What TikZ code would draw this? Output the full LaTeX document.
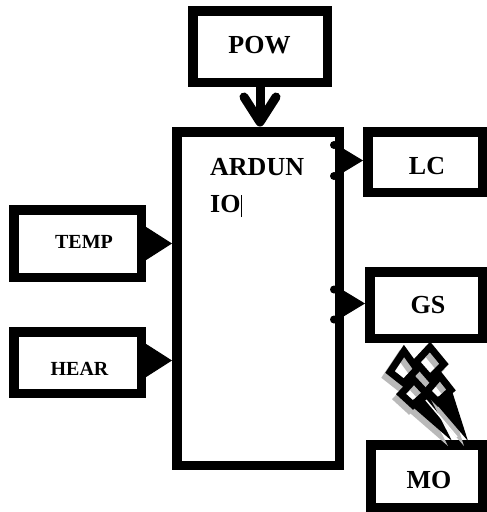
\documentclass[tikz,border=0pt]{standalone}
\usepackage{fontspec}
\setmainfont{Liberation Serif}
\usetikzlibrary{arrows.meta,calc}
\begin{document}
\begin{tikzpicture}[x=1pt,y=-1pt,
  box/.style={draw=black,line width=9.5pt,fill=white,inner sep=0pt,outer sep=4.75pt},
  big/.style={font=\fontsize{26}{30}\selectfont\bfseries,inner sep=0pt,anchor=base},
  small/.style={font=\fontsize{20}{24}\selectfont\bfseries,inner sep=0pt,anchor=base},
  tri/.style={line width=1pt,-{Triangle[length=26pt,width=33pt]}},
  trir/.style={line width=1pt,-{Triangle[length=25pt,width=30pt]}},
  dotn/.style={fill=black,circle,inner sep=0pt,minimum size=8pt},
  thick9/.style={line width=9pt},
  chev/.style={line width=9pt,line cap=round,line join=round},
  lobe/.style={draw=black,line width=7pt,line join=miter,miter limit=3},
  lobeshadow/.style={draw=gray!55,line width=7pt,line join=miter,miter limit=3},
  spike/.style={fill=black},
  spikeshadow/.style={fill=gray!55}
]
\useasboundingbox (0,0) rectangle (487,512);

% boxes
\node[box,minimum width=134.5pt,minimum height=71.5pt] (pow) at (260,46.5) {};
\node[box,minimum width=162.5pt,minimum height=333.5pt] (ard) at (258,298.5) {};
\node[box,minimum width=114.5pt,minimum height=60.5pt] (lc) at (425,162) {};
\node[box,minimum width=112.5pt,minimum height=66.5pt] (gs) at (426,305) {};
\node[box,minimum width=111.5pt,minimum height=62.5pt] (mo) at (426.5,476) {};
\node[box,minimum width=127.5pt,minimum height=67.5pt] (temp) at (77.5,243.5) {};
\node[box,minimum width=127.5pt,minimum height=61.5pt] (hear) at (77.5,362.5) {};

% texts
\node[big] (powT) at (259.5,53) {POW};
\node[big] (lcT) at (427,174) {LC};
\node[big] (gsT) at (428,313) {GS};
\node[big] (moT) at (429,488) {MO};
\node[small] (tempT) at (84,248) {TEMP};
\node[small] (hearT) at (79.5,375) {HEAR};
\node[big,anchor=base west] (ardA) at (210,175) {ARDUN};
\node[big,anchor=base west] (ardB) at (210,212) {IO};
\draw[line width=0.8pt] ($(ardB.base east)+(1,5)$) -- ($(ardB.base east)+(1,-17)$);

% power arrow
\coordinate (powtip) at ($(pow.south |- ard.north)+(0,-5)$);
\draw[thick9] (pow.south) -- (powtip);
\draw[chev] ($(powtip)+(-16,-25)$) -- (powtip) -- ($(powtip)+(16,-25)$);

% sensor arrows
\draw[tri] (temp.east) -- (temp.east -| ard.west);
\draw[tri] ($(hear.east)+(0,-2)$) -- ($(hear.east -| ard.west)+(0,-2)$);

% output arrows
\coordinate (lcend) at ($(lc.west)+(0,-1.5)$);
\draw[trir] (lcend -| ard.east) -- (lcend);
\node[dotn] (lcd1) at ($(lcend)+(-29,-15.5)$) {};
\node[dotn] (lcd2) at ($(lcend)+(-29,15.5)$) {};
\coordinate (gsend) at ($(gs.west)+(0,-1.5)$);
\draw[trir] (gsend -| ard.east) -- (gsend);
\node[dotn] (gsd1) at ($(gsend)+(-31,-14)$) {};
\node[dotn] (gsd2) at ($(gsend)+(-31,16)$) {};

% lightning bolts between GS and MO (shadow first)
\begin{scope}[shift={(-4,5)}]
\draw[lobeshadow] (404,351) -- (417,369) -- (404,383) -- (390,372) -- cycle;
\draw[lobeshadow] (414,380) -- (426,393) -- (413,405) -- (401,394) -- cycle;
\fill[spikeshadow] (407,402) -- (428,394) -- (452,441) -- cycle;
\draw[lobeshadow] (430,347) -- (444,364) -- (430,378) -- (416,362) -- cycle;
\draw[lobeshadow] (440,376) -- (451,390) -- (438,402) -- (427,391) -- cycle;
\fill[spikeshadow] (432,399) -- (452,391) -- (468,441) -- cycle;
\end{scope}
\draw[lobe] (404,351) -- (417,369) -- (404,383) -- (390,372) -- cycle;
\draw[lobe] (414,380) -- (426,393) -- (413,405) -- (401,394) -- cycle;
\fill[spike] (407,402) -- (428,394) -- (452,441) -- cycle;
\draw[lobe] (430,347) -- (444,364) -- (430,378) -- (416,362) -- cycle;
\draw[lobe] (440,376) -- (451,390) -- (438,402) -- (427,391) -- cycle;
\fill[spike] (432,399) -- (452,391) -- (468,441) -- cycle;
\draw[white,line width=1.5pt] (426,400) -- (457,437);
\end{tikzpicture}
\end{document}
